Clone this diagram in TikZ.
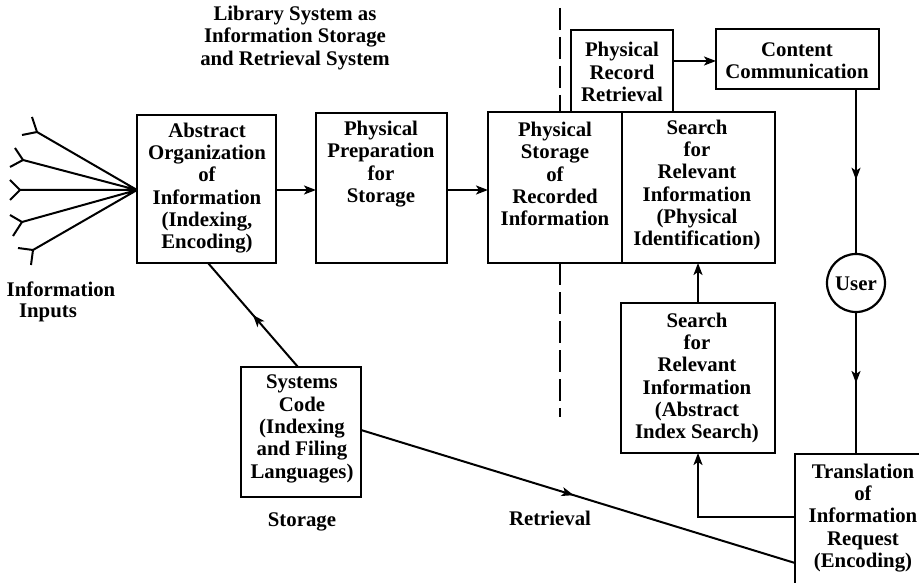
\documentclass[tikz,border=0pt]{standalone}
\usepackage{fontspec}
\setmainfont{Liberation Serif}
\usetikzlibrary{arrows.meta,decorations.markings}
\tikzset{
  box/.style={draw, line width=2.2pt, rectangle, inner sep=0pt, outer sep=0pt},
  txt/.style={align=center, inner sep=0pt, font=\fontsize{20.8}{22.3}\selectfont\bfseries},
  conn/.style={line width=2pt},
  arr/.style={conn, -{Stealth[length=12pt,width=9pt,inset=3pt]}},
  midarr/.style={conn, postaction={decorate}, decoration={markings, mark=at position #1 with {\arrow{Stealth[length=12pt,width=9pt,inset=3pt]}}}},
  dashline/.style={line width=1.8pt, dash pattern=on 22pt off 7pt},
}
\begin{document}
\begin{tikzpicture}[x=1pt,y=-1pt]
\useasboundingbox (0,0) rectangle (919,583);
\clip (0,0) rectangle (919,583);
% boxes
\node[box, minimum width=139pt, minimum height=148pt] (abs) at (206.5,189) {};
\node[box, minimum width=131pt, minimum height=150pt] (prep) at (381.5,188) {};
\node[box, minimum width=134pt, minimum height=151pt] (stor) at (555,187.5) {};
\node[box, minimum width=153pt, minimum height=151pt] (sphys) at (698.5,187.5) {};
\node[box, minimum width=102pt, minimum height=82pt] (prr) at (622,71) {};
\node[box, minimum width=163pt, minimum height=60pt] (cc) at (797.5,59) {};
\node[box, minimum width=154pt, minimum height=150pt] (sabs) at (698,378) {};
\node[box, minimum width=120pt, minimum height=130pt] (sys) at (301,432) {};
\node[box, minimum width=145pt, minimum height=146pt] (trans) at (867.5,527) {};
\node[draw, circle, line width=2.2pt, minimum size=58pt, inner sep=0pt, outer sep=0pt] (user) at (856,283) {};
% texts
\node[txt] (title) at (295,38) {Library System as\\Information Storage\\and Retrieval System};
\node[txt] (abs-t) at (207,188) {Abstract\\Organization\\of\\Information\\(Indexing,\\Encoding)};
\node[txt] (prep-t) at (381,164) {Physical\\Preparation\\for\\Storage};
\node[txt] (stor-t) at (555,174) {Physical\\Storage\\of\\Recorded\\Information};
\node[txt] (sphys-t) at (697,185) {Search\\for\\Relevant\\Information\\(Physical\\Identification)};
\node[txt] (prr-t) at (622,72) {Physical\\Record\\Retrieval};
\node[txt] (cc-t) at (797,61) {Content\\Communication};
\node[txt] (sabs-t) at (697,378) {Search\\for\\Relevant\\Information\\(Abstract\\Index Search)};
\node[txt] (sys-t) at (302,429) {Systems\\Code\\(Indexing\\and Filing\\Languages)};
\node[txt] (trans-t) at (863,518) {Translation\\of\\Information\\Request\\(Encoding)};
\node[txt] (user-t) at (856,284) {User};
\node[txt] (storage-l) at (302,522) {Storage};
\node[txt] (retr-l) at (550,518) {Retrieval};
\node[txt] (info-l) at (61,289) {Information};
\node[txt] (inputs-l) at (48,313) {Inputs};
% connectors
\draw[arr] (abs.east |- 0,190) -- (prep.west |- 0,190);
\draw[arr] (prep.east |- 0,190) -- (stor.west |- 0,190);
\draw[arr] (prr.east |- 0,61) -- (cc.west |- 0,61);
\draw[midarr=0.55] (user |- cc.south) -- (user.north);
\draw[midarr=0.5] (user.south) -- (user |- trans.north);
\draw[arr] (sabs.north) -- (sabs.north |- sphys.south);
\draw[arr] ([yshift=10pt]trans.west) -| (sabs.south);
\draw[midarr=0.5] ([xshift=-3pt]sys.north) -- ([xshift=1.5pt]abs.south);
\draw[midarr=0.49] ([yshift=2pt]sys.east) -- ([yshift=-36pt]trans.west);
% dashed boundary
\coordinate (dtop) at (560,8);
\coordinate (dbot) at (560,417);
\draw[dashline] (dtop) -- (dtop |- stor.north);
\draw[dashline] (dbot |- stor.south) -- (dbot);
% information inputs fan
\coordinate (fan) at (abs.west |- 0,190);
\coordinate (j1) at (37,132); \coordinate (j2) at (23,160); \coordinate (j3) at (20,190);
\coordinate (j4) at (22,222); \coordinate (j5) at (33,250);
\draw[conn] (fan) -- (j1) (fan) -- (j2) (fan) -- (j3) (fan) -- (j4) (fan) -- (j5);
\draw[conn] (32,117) -- (j1) -- (22,135);
\draw[conn] (15,148) -- (j2) -- (10,167);
\draw[conn] (10,180) -- (j3) -- (10,200);
\draw[conn] (10,215) -- (j4) -- (13,236);
\draw[conn] (18,248) -- (j5) -- (31,265);
\end{tikzpicture}
\end{document}
